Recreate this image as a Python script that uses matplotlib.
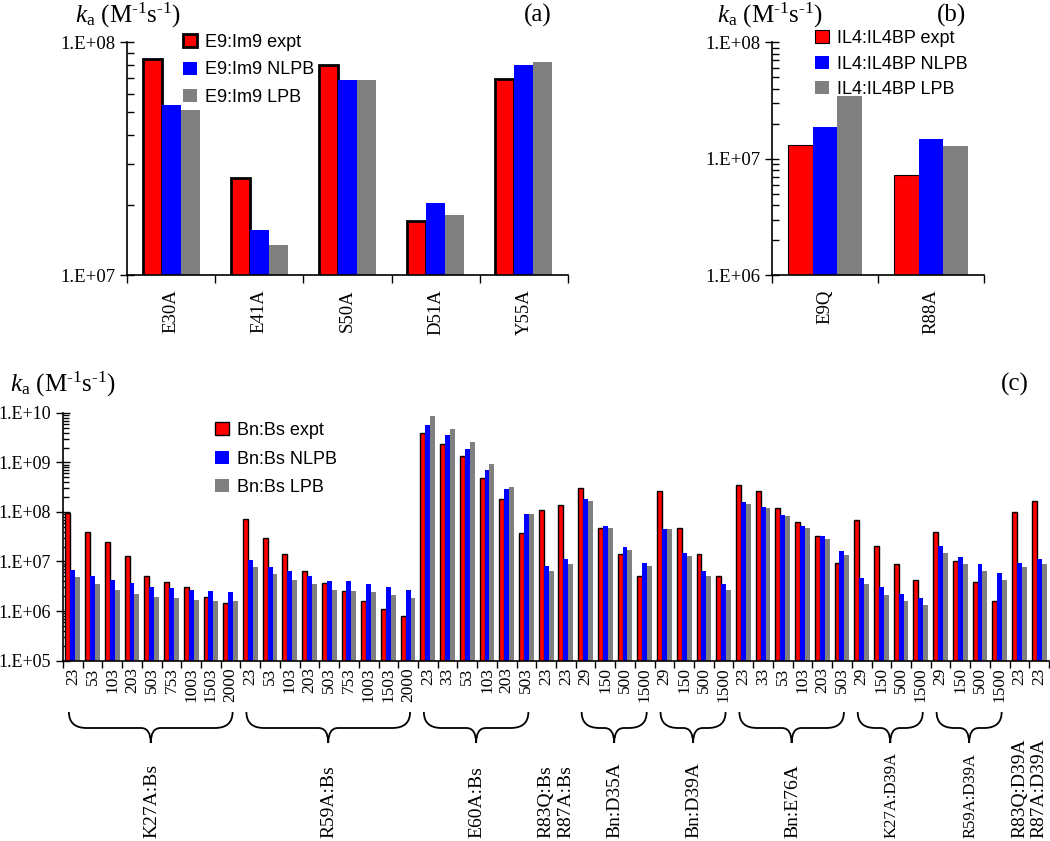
import matplotlib
matplotlib.use('Agg')
import matplotlib.pyplot as plt
import matplotlib.transforms as mtransforms
import numpy as np
from matplotlib.patches import Patch, PathPatch
from matplotlib.path import Path
from matplotlib.ticker import FuncFormatter, LogLocator, NullFormatter

plt.rcParams['font.family'] = 'Liberation Serif'
plt.rcParams['mathtext.fontset'] = 'custom'
plt.rcParams['mathtext.rm'] = 'Liberation Serif'
plt.rcParams['mathtext.it'] = 'Liberation Serif:italic'

# panel (a): E9:Im9
a_cats = ['E30A', 'E41A', 'S50A', 'D51A', 'Y55A']
a_expt = [8.5e7, 2.62e7, 7.96e7, 1.71e7, 6.98e7]
a_nlpb = [5.38e7, 1.57e7, 6.9e7, 2.04e7, 8.0e7]
a_lpb = [5.1e7, 1.35e7, 6.9e7, 1.81e7, 8.2e7]

# panel (b): IL4:IL4BP
b_cats = ['E9Q', 'R88A']
b_expt = [1.31e7, 7.2e6]
b_nlpb = [1.87e7, 1.47e7]
b_lpb = [3.44e7, 1.29e7]

# panel (c): Bn:Bs, grouped by mutant, ticks = ionic strength
c_group_names = ['K27A:Bs', 'R59A:Bs', 'E60A:Bs', 'R83Q:Bs', 'R87A:Bs', 'Bn:D35A',
                 'Bn:D39A', 'Bn:E76A', 'K27A:D39A', 'R59A:D39A', 'R83Q:D39A', 'R87A:D39A']
c_group_ticks = [['23', '53', '103', '203', '503', '753', '1003', '1503', '2000'],
                 ['23', '53', '103', '203', '503', '753', '1003', '1503', '2000'],
                 ['23', '33', '53', '103', '203', '503'],
                 ['23'], ['23'],
                 ['29', '150', '500', '1500'],
                 ['29', '150', '500', '1500'],
                 ['23', '33', '53', '103', '203', '503'],
                 ['29', '150', '500', '1500'],
                 ['29', '150', '500', '1500'],
                 ['23'], ['23']]
c_expt = [9.7e7, 4.0e7, 2.45e7, 1.27e7, 5.1e6, 3.9e6, 3.1e6, 1.95e6, 1.48e6,
          7.2e7, 2.95e7, 1.44e7, 6.3e6, 3.6e6, 2.5e6, 1.56e6, 1.1e6, 8.1e5,
          3.9e9, 2.4e9, 1.35e9, 4.8e8, 1.85e8, 3.8e7,
          1.12e8, 1.38e8,
          3.1e8, 4.7e7, 1.44e7, 5.1e6,
          2.6e8, 4.7e7, 1.44e7, 5.0e6,
          3.5e8, 2.7e8, 1.18e8, 6.2e7, 3.3e7, 9.3e6,
          6.9e7, 2.04e7, 8.9e6, 4.3e6,
          3.9e7, 1.02e7, 3.9e6, 1.58e6,
          1.02e8, 1.66e8]
c_nlpb = [6.6e6, 5.1e6, 4.3e6, 3.7e6, 3.0e6, 2.9e6, 2.65e6, 2.5e6, 2.45e6,
          1.07e7, 7.9e6, 6.5e6, 5.1e6, 4.1e6, 4.0e6, 3.5e6, 3.0e6, 2.6e6,
          5.7e9, 3.55e9, 1.84e9, 7.0e8, 2.96e8, 9.2e7,
          8.0e6, 1.12e7,
          1.85e8, 5.1e7, 2.0e7, 9.3e6,
          4.6e7, 1.47e7, 6.3e6, 3.5e6,
          1.6e8, 1.26e8, 8.7e7, 5.2e7, 3.24e7, 1.66e7,
          4.6e6, 3.0e6, 2.24e6, 1.8e6,
          2.1e7, 1.22e7, 9.1e6, 5.9e6,
          9.3e6, 1.12e7]
c_lpb = [4.9e6, 3.5e6, 2.6e6, 2.2e6, 1.9e6, 1.8e6, 1.66e6, 1.58e6, 1.58e6,
         7.6e6, 5.6e6, 4.3e6, 3.5e6, 2.6e6, 2.5e6, 2.4e6, 2.1e6, 1.86e6,
         8.5e9, 4.8e9, 2.6e9, 9.2e8, 3.25e8, 9.2e7,
         6.3e6, 9.1e6,
         1.68e8, 4.8e7, 1.74e7, 8.0e6,
         4.6e7, 1.27e7, 5.2e6, 2.6e6,
         1.46e8, 1.18e8, 8.3e7, 4.8e7, 2.8e7, 1.33e7,
         3.5e6, 2.1e6, 1.58e6, 1.32e6,
         1.5e7, 9.1e6, 6.3e6, 4.3e6,
         7.6e6, 9.1e6]

colors = ['#ff0000', '#0000ff', '#808080']
ylab = r'$k_{\mathrm{a}}$ (M$^{\text{-1}}$s$^{\text{-1}}$)'

W, H = 1050, 841
fig = plt.figure(figsize=(10.5, 8.41), dpi=100)


def px_axes(l, t, r, b):
    return fig.add_axes([l / W, 1 - b / H, (r - l) / W, (b - t) / H])


def fig_text(x, y, s, **kw):
    fig.text(x / W, 1 - y / H, s, **kw)


def bar_panel(ax, cats, series, width, red_lw, ylim, fs, pad):
    n = len(cats)
    x = np.arange(n) + 0.5
    for k, vals in enumerate(series):
        if k == 0:
            ax.bar(x + (k - 1) * width, vals, width, color=colors[k],
                   edgecolor='black', linewidth=red_lw, zorder=2)
        else:
            ax.bar(x + (k - 1) * width, vals, width, color=colors[k],
                   linewidth=0, zorder=2)
    ax.set_yscale('log')
    ax.set_ylim(*ylim)
    ax.set_xlim(0, n)
    ax.set_xticks(np.arange(n + 1))
    ax.set_xticklabels([])
    ax.set_xticks(x, minor=True)
    ax.set_xticklabels(cats, minor=True, rotation=90, fontsize=fs)
    ax.tick_params(axis='x', which='major', direction='out', length=6, width=1)
    ax.tick_params(axis='x', which='minor', length=0, pad=pad)
    ax.yaxis.set_major_locator(LogLocator(base=10))
    ax.yaxis.set_minor_locator(LogLocator(base=10, subs=np.arange(2, 10)))
    ax.yaxis.set_minor_formatter(NullFormatter())
    ax.yaxis.set_major_formatter(FuncFormatter(lambda v, p: '1.E+%02d' % round(np.log10(v))))
    ax.tick_params(axis='y', which='major', direction='inout', length=10, width=1, labelsize=13.5)
    ax.tick_params(axis='y', which='minor', direction='in', length=5, width=1)
    for s in ['top', 'right']:
        ax.spines[s].set_visible(False)
    for s in ['left', 'bottom']:
        ax.spines[s].set_linewidth(1.2)


def add_legend(ax, labels, x, y, spacing, red_lw):
    handles = [Patch(facecolor=colors[0], edgecolor='black', linewidth=red_lw),
               Patch(facecolor=colors[1], edgecolor=colors[1], linewidth=0),
               Patch(facecolor=colors[2], edgecolor=colors[2], linewidth=0)]
    ax.legend(handles, labels, loc='upper left', bbox_to_anchor=(x / W, 1 - y / H),
              bbox_transform=fig.transFigure, frameon=False, borderpad=0,
              handlelength=0.75, handleheight=0.75, handletextpad=0.45,
              labelspacing=spacing, prop={'family': 'Liberation Sans', 'size': 13})


# (a)
ax_a = px_axes(127, 42.3, 568, 275.3)
bar_panel(ax_a, a_cats, [a_expt, a_nlpb, a_lpb], 0.215, 2.0, (1e7, 1e8), 13.5, 10)
add_legend(ax_a, ['E9:Im9 expt', 'E9:Im9 NLPB', 'E9:Im9 LPB'], 174, 25, 0.58, 2.0)
fig_text(75, 15, ylab, fontsize=18, ha='left', va='center')
fig_text(538, 15, '(a)', fontsize=18, ha='center', va='center')

# (b)
ax_b = px_axes(772, 42.3, 984, 275.3)
bar_panel(ax_b, b_cats, [b_expt, b_nlpb, b_lpb], 0.23, 0.8, (1e6, 1e8), 13.5, 10)
add_legend(ax_b, ['IL4:IL4BP expt', 'IL4:IL4BP NLPB', 'IL4:IL4BP LPB'], 806, 21, 0.47, 0.8)
fig_text(717, 15, ylab, fontsize=18, ha='left', va='center')
fig_text(952, 15, '(b)', fontsize=18, ha='center', va='center')

# (c)
c_ticks = [t for g in c_group_ticks for t in g]
ax_c = px_axes(63, 413, 1049, 660.5)
bar_panel(ax_c, c_ticks, [c_expt, c_nlpb, c_lpb], 0.25, 1.0, (1e5, 1e10), 12.5, 5)
ax_c.tick_params(axis='y', which='major', labelsize=13)
ax_c.tick_params(axis='y', which='minor', length=4)
ax_c.tick_params(axis='x', which='major', length=5)
add_legend(ax_c, ['Bn:Bs expt', 'Bn:Bs NLPB', 'Bn:Bs LPB'], 206, 413, 0.64, 1.0)
fig_text(10, 384, ylab, fontsize=18, ha='left', va='center')
fig_text(1015, 384, '(c)', fontsize=18, ha='center', va='center')

# curly braces and group names under the tick labels
trans = mtransforms.blended_transform_factory(ax_c.transData, ax_c.transAxes)
axh = 660.5 - 413
yt, ym, yb = (660.5 - 712) / axh, (660.5 - 728) / axh, (660.5 - 743) / axh
ylabel_y = (660.5 - 838) / axh
start = 0
for name, ticks in zip(c_group_names, c_group_ticks):
    n = len(ticks)
    x0 = start + 0.5 - 0.2
    x1 = start + n - 0.5 + 0.1
    xc = (x0 + x1) / 2
    if n > 1:
        r, r2 = 0.9, 0.5
        verts = [(x0, yt), (x0, ym), (x0 + r, ym), (xc - r2, ym), (xc, ym), (xc, yb),
                 (xc, ym), (xc + r2, ym), (x1 - r, ym), (x1, ym), (x1, yt)]
        codes = [Path.MOVETO, Path.CURVE3, Path.CURVE3, Path.LINETO, Path.CURVE3, Path.CURVE3,
                 Path.CURVE3, Path.CURVE3, Path.LINETO, Path.CURVE3, Path.CURVE3]
        ax_c.add_patch(PathPatch(Path(verts, codes), facecolor='none', edgecolor='black',
                                 linewidth=1.3, transform=trans, clip_on=False))
    fs = 12 if name in ('K27A:D39A', 'R59A:D39A') else 14
    ax_c.text(start + n / 2, ylabel_y, name, transform=trans, rotation=90,
              ha='center', va='bottom', fontsize=fs)
    start += n

fig.savefig('out.png', dpi=100)
